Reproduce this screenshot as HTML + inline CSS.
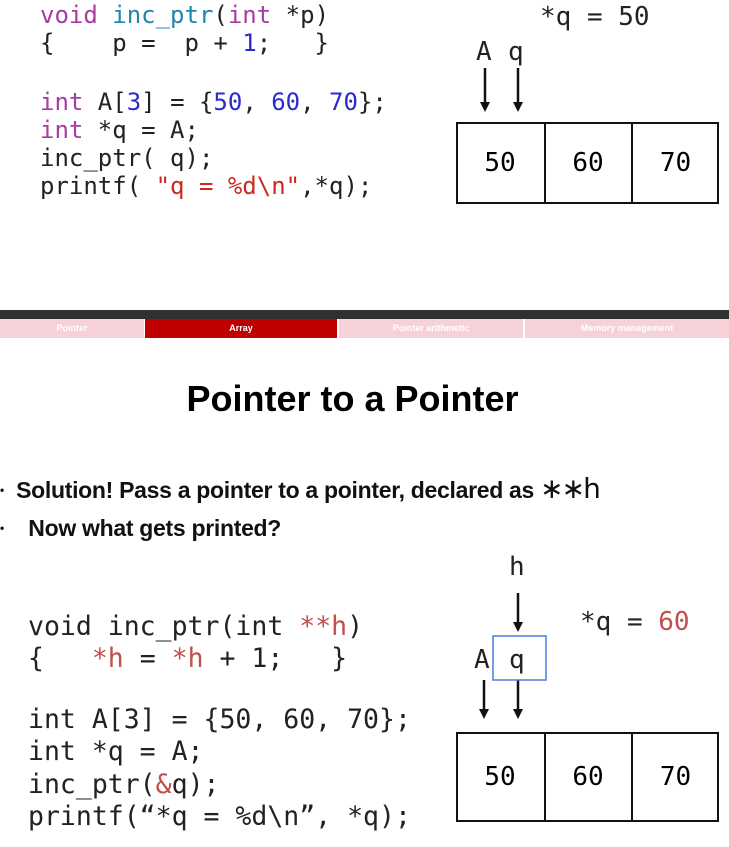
<!DOCTYPE html>
<html><head><style>
body{margin:0;width:729px;height:847px;background:#fff;position:relative;overflow:hidden;font-family:"DejaVu Sans Mono","Liberation Mono",monospace;}
.t{position:absolute;white-space:pre;color:#222;}
.c1{font-size:24px;line-height:28px;}
.c2{font-size:26.5px;line-height:32px;}
.k{color:#a83ca3}.f{color:#1f86ae}.n{color:#2a2ad0}.s{color:#cc2a1e}.r{color:#c0504d}
.box{position:absolute;border:2.5px solid #111;box-sizing:border-box;}
.cell{position:absolute;font-size:26px;text-align:center;}
.tab{position:absolute;top:319px;height:19px;background:#f6d1d8;color:#fff;font:bold 9px "Liberation Sans Narrow","Liberation Sans",sans-serif;line-height:19px;text-align:center;}
</style></head><body>
<div class="t c1" style="left:40px;top:1px"><span class="k">void</span> <span class="f">inc_ptr</span>(<span class="k">int</span> *p)</div>
<div class="t c1" style="left:40px;top:29px">{    p =  p + <span class="n">1</span>;   }</div>
<div class="t c1" style="left:40px;top:88px"><span class="k">int</span> A[<span class="n">3</span>] = {<span class="n">50</span>, <span class="n">60</span>, <span class="n">70</span>};</div>
<div class="t c1" style="left:40px;top:116px"><span class="k">int</span> *q = A;</div>
<div class="t c1" style="left:40px;top:144px">inc_ptr( q);</div>
<div class="t c1" style="left:40px;top:172px">printf( <span class="s">"q = %d\n"</span>,*q);</div>

<div class="t c1" style="left:540px;top:3px;font-size:26px">*q = 50</div>
<div class="t c1" style="left:476px;top:38px;font-size:26px">A</div>
<div class="t c1" style="left:508px;top:38px;font-size:26px">q</div>
<svg style="position:absolute;left:0;top:0" width="729" height="847">
<g stroke="#111" stroke-width="2.5" fill="#111">
<line x1="485" y1="68" x2="485" y2="104"/><polygon points="480,102 490,102 485,112" stroke="none"/>
<line x1="518" y1="68" x2="518" y2="104"/><polygon points="513,102 523,102 518,112" stroke="none"/>
<line x1="518" y1="593" x2="518" y2="624"/><polygon points="513,622 523,622 518,632" stroke="none"/>
<line x1="484" y1="680" x2="484" y2="711"/><polygon points="479,709 489,709 484,719" stroke="none"/>
<line x1="518" y1="680" x2="518" y2="711"/><polygon points="513,709 523,709 518,719" stroke="none"/>
</g>
<rect x="493" y="636" width="53" height="44" fill="none" stroke="#4a7fd4" stroke-width="1.5"/>
</svg>
<div class="box" style="left:456px;top:122px;width:263px;height:82px"></div>
<div class="box" style="left:544px;top:122px;width:89px;height:82px;border-top:none;border-bottom:none"></div>
<div class="cell" style="left:456px;top:148px;width:88px">50</div>
<div class="cell" style="left:544px;top:148px;width:88px">60</div>
<div class="cell" style="left:632px;top:148px;width:87px">70</div>

<div style="position:absolute;left:0;top:310px;width:729px;height:9px;background:#303030"></div>
<div class="tab" style="left:0;width:144px">Pointer</div>
<div class="tab" style="left:145px;width:192px;background:#c00000">Array</div>
<div class="tab" style="left:339px;width:184px">Pointer arithmetic</div>
<div class="tab" style="left:525px;width:204px">Memory management</div>

<div style="position:absolute;left:0;width:705px;top:378px;text-align:center;font:bold 36px 'Liberation Sans',sans-serif;color:#000">Pointer to a Pointer</div>
<div style="position:absolute;left:0px;top:472px;font:bold 23px 'Liberation Sans Narrow','Liberation Sans',sans-serif;color:#111;white-space:pre;letter-spacing:-0.3px"><span style="font-size:12px;vertical-align:4px">•</span>  Solution! Pass a pointer to a pointer, declared as <span style="font:28px 'DejaVu Sans',sans-serif;font-weight:normal;letter-spacing:-2px">∗∗h</span></div>
<div style="position:absolute;left:0px;top:515px;font:bold 23px 'Liberation Sans Narrow','Liberation Sans',sans-serif;color:#111;white-space:pre;letter-spacing:-0.3px"><span style="font-size:12px;vertical-align:4px">•</span>    Now what gets printed?</div>

<div class="t c2" style="left:28px;top:611px">void inc_ptr(int <span class="r">**h</span>)</div>
<div class="t c2" style="left:28px;top:643px">{   <span class="r">*h</span> = <span class="r">*h</span> + 1;   }</div>
<div class="t c2" style="left:28px;top:704px">int A[3] = {50, 60, 70};</div>
<div class="t c2" style="left:28px;top:736px">int *q = A;</div>
<div class="t c2" style="left:28px;top:769px">inc_ptr(<span class="r">&amp;</span>q);</div>
<div class="t c2" style="left:28px;top:801px">printf(“*q = %d\n”, *q);</div>

<div class="t c1" style="left:509px;top:553px;font-size:26px">h</div>
<div class="t c1" style="left:580px;top:608px;font-size:26px">*q = <span class="r">60</span></div>
<div class="t c1" style="left:474px;top:646px;font-size:26px">A</div>
<div class="t c1" style="left:509px;top:646px;font-size:26px">q</div>
<div class="box" style="left:456px;top:732px;width:263px;height:90px"></div>
<div class="box" style="left:544px;top:732px;width:89px;height:90px;border-top:none;border-bottom:none"></div>
<div class="cell" style="left:456px;top:762px;width:88px">50</div>
<div class="cell" style="left:544px;top:762px;width:88px">60</div>
<div class="cell" style="left:632px;top:762px;width:87px">70</div>
</body></html>
